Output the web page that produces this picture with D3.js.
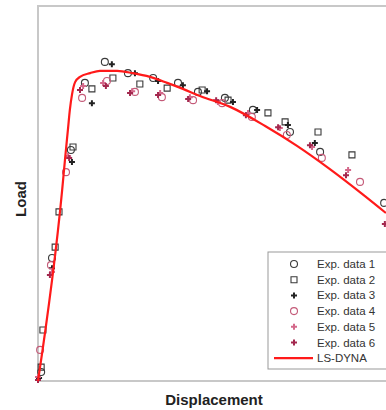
<!DOCTYPE html>
<html>
<head>
<meta charset="utf-8">
<script src="https://cdn.jsdelivr.net/npm/d3@7"></script>
<style>
  body { margin: 0; background: #fff; }
  svg { display: block; }
</style>
</head>
<body>
<div id="chart"></div>
<script>
const exp1 = [[0.9,2.4],[4.0,32.8],[9.4,61.6],[13.4,79.5],[19.1,85.1],[25.7,82.1],[32.9,80.8],[40.0,79.5],[45.7,77.1],[53.4,75.5],[61.4,72.3],[72.0,66.4],[80.6,61.1],[98.9,47.5]];
const exp2 = [[0.9,3.7],[1.4,13.6],[4.9,35.7],[6.0,45.1],[10.0,62.4],[15.4,77.9],[21.4,80.8],[29.1,79.2],[36.9,78.1],[46.9,77.6],[54.3,74.9],[65.7,71.5],[70.6,69.1],[80.0,66.4],[89.7,60.3]];
const exp3 = [[0.3,0.8],[4.0,30.1],[9.7,58.4],[15.4,74.1],[21.1,84.5],[27.7,82.1],[34.3,80.0],[41.4,78.9],[48.3,77.3],[55.7,74.4],[62.6,72.3],[71.4,68.3],[79.1,63.5]];
const exp4 = [[0.6,8.3],[3.7,30.9],[8.0,55.7],[12.6,75.5],[19.7,80.0],[27.7,77.1],[35.4,75.7],[44.3,74.9],[52.6,74.1],[61.1,70.4],[71.1,65.6],[81.1,59.5],[92.0,53.1]];
const exp5 = [[0,1.1],[4.0,29.1],[8.6,60.0],[12.9,78.7],[18.6,79.5],[26.9,77.3],[34.9,76.8],[43.4,75.7],[51.4,74.4],[60.0,71.5],[69.1,67.5],[78.3,62.4],[88.6,56.3]];
const exp6 = [[0,0.3],[3.4,28.3],[8.9,59.5],[12.0,77.6],[19.4,78.7],[26.3,76.8],[34.3,76.3],[42.9,75.2],[50.9,74.9],[59.4,70.9],[68.6,67.7],[77.7,62.9],[88.0,54.9],[99.1,41.9]];
// simulation curve
const lsDyna = [[0,0],[6.9,50.9],[7.7,58.9],[8.6,67.5],[9.1,72.3],[9.7,76.3],[10.6,79.7],[12.0,81.1],[14.9,82.1],[17.7,82.7],[22.6,82.7],[27.1,82.1],[32.0,81.1],[36.9,79.5],[41.4,77.9],[46.3,76.0],[54.9,73.1],[64.9,68.0],[74.0,62.7],[83.4,56.5],[92.6,49.9],[99.4,44.8]];

const seriesNames = ["Exp. data 1","Exp. data 2","Exp. data 3","Exp. data 4","Exp. data 5","Exp. data 6"];
const seriesData = [exp1, exp2, exp3, exp4, exp5, exp6];

const W = 386, H = 410;
const margin = { top: 6, right: -2, bottom: 29, left: 38 };
const width = W - margin.left - margin.right,
  height = H - margin.top - margin.bottom;

const svg = d3.select("#chart").append("svg")
  .attr("width", W).attr("height", H);

const g = svg.append("g")
  .attr("transform", "translate(" + margin.left + "," + margin.top + ")");

const x = d3.scaleLinear().domain([0, 100]).range([0, width]);
const y = d3.scaleLinear().domain([0, 100]).range([height, 0]);

// frame
g.append("rect")
  .attr("x", 0).attr("y", 0)
  .attr("width", width).attr("height", height)
  .attr("fill", "none")
  .attr("stroke", "#c8c8c8")
  .attr("stroke-width", 2);

// marker styles per series
const styles = [
  { type: d3.symbolCircle, size: 38, fill: "none", stroke: "#3a3a3a" },
  { type: d3.symbolSquare, size: 36, fill: "none", stroke: "#3a3a3a" },
  { type: d3.symbolCross, size: 20, fill: "#222", stroke: "none" },
  { type: d3.symbolCircle, size: 38, fill: "none", stroke: "#c45a78" },
  { type: d3.symbolCross, size: 20, fill: "#d4688a", stroke: "none" },
  { type: d3.symbolCross, size: 20, fill: "#a3284e", stroke: "none" }
];

seriesData.forEach(function (data, i) {
  const s = styles[i];
  g.selectAll(".m" + i)
    .data(data)
    .enter()
    .append("path")
    .attr("class", "m" + i)
    .attr("d", d3.symbol().type(s.type).size(s.size))
    .attr("transform", function (d) {
      return "translate(" + x(d[0]) + "," + y(d[1]) + ")";
    })
    .attr("fill", s.fill)
    .attr("stroke", s.stroke)
    .attr("stroke-width", 1.1);
});

// LS-DYNA line
g.append("path")
  .datum(lsDyna)
  .attr("d", d3.line()
    .x(function (d) { return x(d[0]); })
    .y(function (d) { return y(d[1]); })
    .curve(d3.curveMonotoneX))
  .attr("fill", "none")
  .attr("stroke", "#ff1a1a")
  .attr("stroke-width", 2.2);

// axis titles
svg.append("text")
  .attr("x", 214).attr("y", 405)
  .attr("text-anchor", "middle")
  .style("font-family", "'Liberation Sans', Arial, sans-serif")
  .style("font-weight", "bold")
  .style("font-size", "15px")
  .attr("fill", "#222")
  .text("Displacement");

svg.append("text")
  .attr("transform", "translate(26,199) rotate(-90)")
  .attr("text-anchor", "middle")
  .style("font-family", "'Liberation Sans', Arial, sans-serif")
  .style("font-weight", "bold")
  .style("font-size", "15px")
  .attr("fill", "#222")
  .text("Load");

// legend
const legend = svg.append("g").attr("transform", "translate(268,252)");
legend.append("rect")
  .attr("x", 0).attr("y", 0)
  .attr("width", 122).attr("height", 117)
  .attr("fill", "#fff")
  .attr("stroke", "#999")
  .attr("stroke-width", 1);

const rowH = 15.7;
seriesNames.forEach(function (name, i) {
  const s = styles[i];
  const ry = 12 + i * rowH;
  legend.append("path")
    .attr("d", d3.symbol().type(s.type).size(s.size))
    .attr("transform", "translate(26," + ry + ")")
    .attr("fill", s.fill)
    .attr("stroke", s.stroke)
    .attr("stroke-width", 1.1);
  legend.append("text")
    .attr("x", 49).attr("y", ry + 4)
    .style("font-family", "'Liberation Sans Narrow', 'Liberation Sans', Arial, sans-serif")
    .style("font-size", "11.5px")
    .attr("fill", "#333")
    .text(name);
});
const ly = 12 + 6 * rowH;
legend.append("line")
  .attr("x1", 6).attr("x2", 45)
  .attr("y1", ly).attr("y2", ly)
  .attr("stroke", "#ff1a1a")
  .attr("stroke-width", 2.2);
legend.append("text")
  .attr("x", 49).attr("y", ly + 4)
  .style("font-family", "'Liberation Sans Narrow', 'Liberation Sans', Arial, sans-serif")
  .style("font-size", "11.5px")
  .attr("fill", "#333")
  .text("LS-DYNA");
</script>
</body>
</html>
